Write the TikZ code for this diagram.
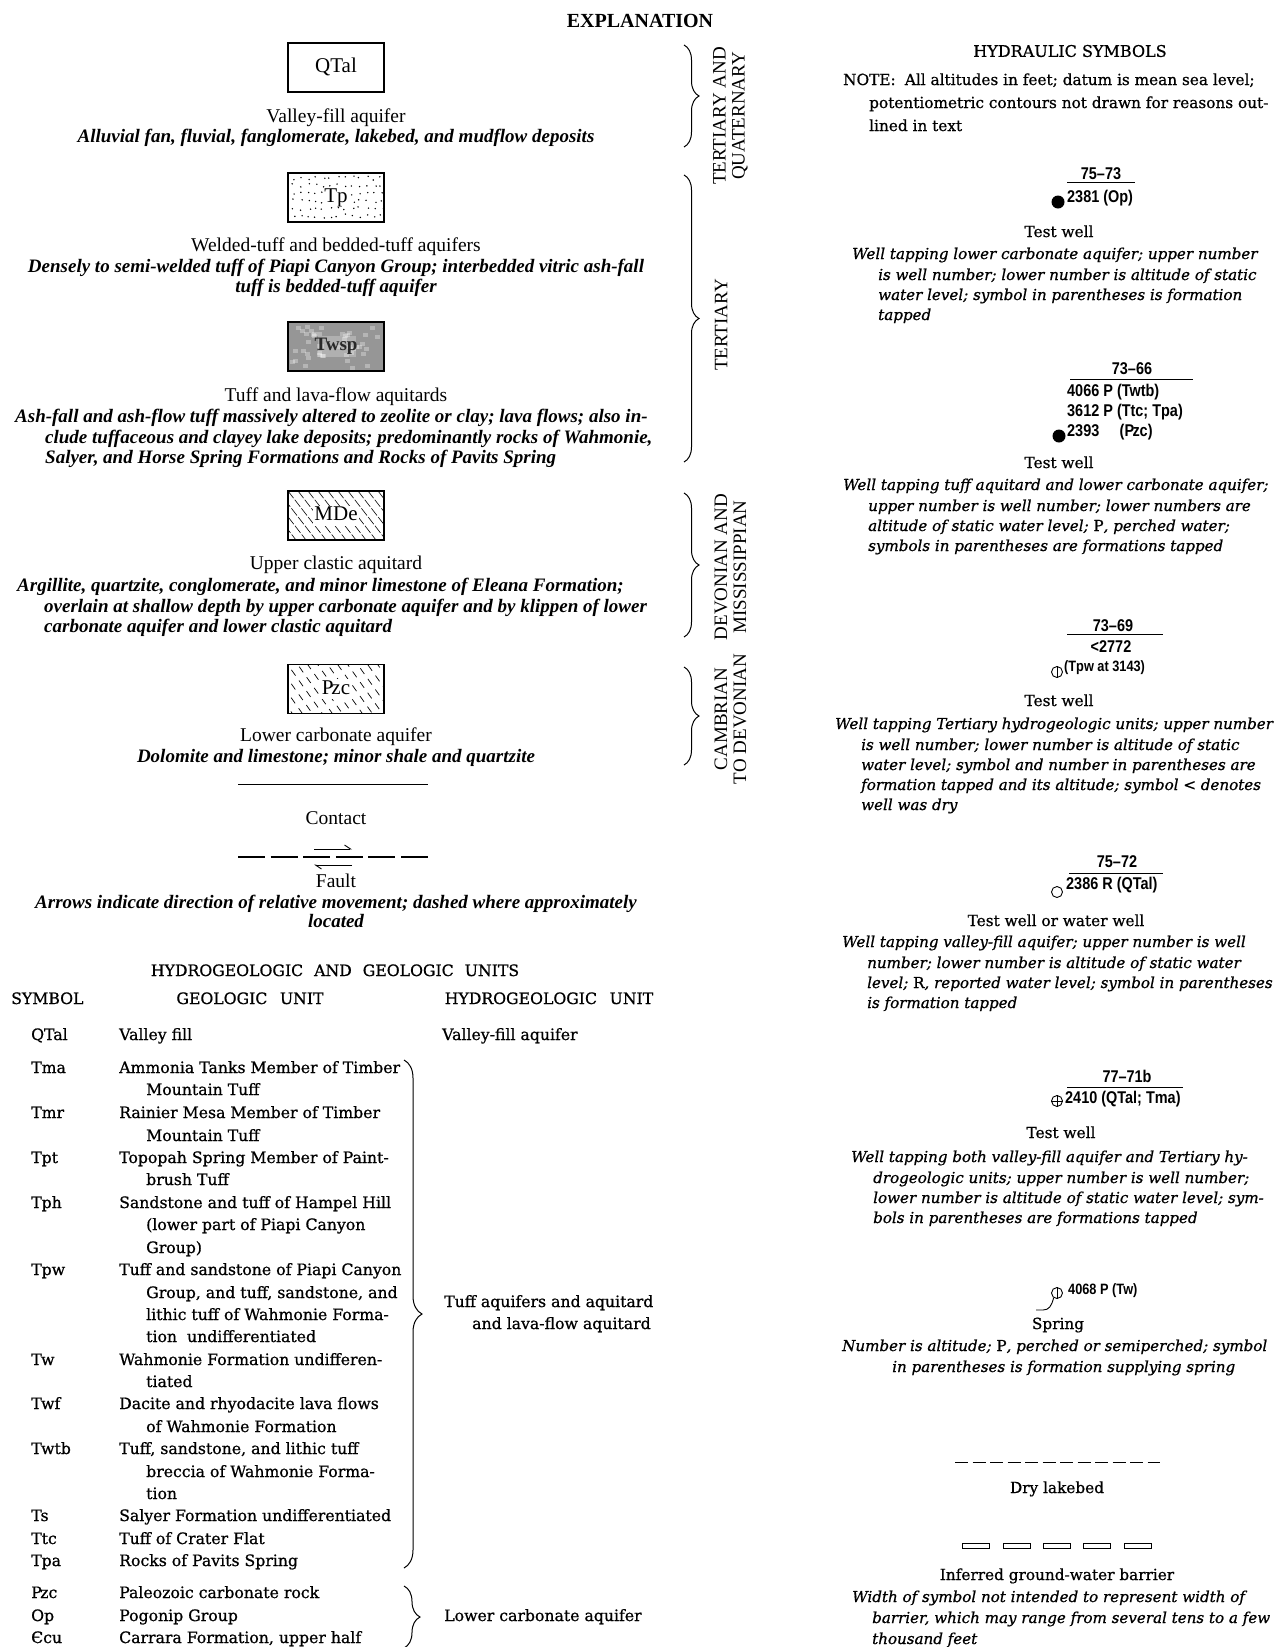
\documentclass[tikz,border=0pt]{standalone}
\usepackage{fontspec}
\setmainfont{Liberation Serif}
\newfontfamily\dvs[FakeBold=0.8]{DejaVu Serif}
\newfontfamily\wellf[FakeStretch=0.85]{Liberation Sans}
\usetikzlibrary{decorations.pathreplacing,arrows.meta}
\newcommand{\pzl}{P\kern-0.1em z}
\begin{document}
\begin{tikzpicture}[x=1pt,y=-1pt,
  lt/.style={inner sep=0pt,text height=14pt,text depth=4pt,font=\fontsize{19.5}{22}\selectfont},
  bl/.style={inner sep=0pt,text height=14pt,text depth=4pt,font=\fontsize{21}{24}\selectfont},
  li/.style={inner sep=0pt,text height=14pt,text depth=4pt,font=\fontsize{19}{22}\selectfont\bfseries\itshape},
  bx/.style={draw,line width=1.1pt,minimum width=96pt,minimum height=49pt,inner sep=0pt},
  vt/.style={rotate=90,align=center,inner sep=0pt,font=\fontsize{19}{19}\selectfont},
  brc/.style={decorate,decoration={brace,amplitude=15pt},line width=1pt},
  tb/.style={inner sep=0pt,text height=11.5pt,text depth=3.5pt,font=\dvs\fontsize{15.7}{19}\selectfont,anchor=west},
  hd/.style={inner sep=0pt,text height=11.5pt,text depth=3.5pt,font=\dvs\fontsize{15.7}{19}\selectfont},
  rt/.style={inner sep=0pt,text height=11pt,text depth=3pt,font=\dvs\fontsize{15.3}{19}\selectfont},
  ri/.style={inner sep=0pt,text height=11pt,text depth=3pt,font=\dvs\itshape\fontsize{15.1}{19}\selectfont,anchor=west},
  wn/.style={inner sep=0pt,text height=12pt,text depth=3.5pt,font=\wellf\bfseries\fontsize{17}{19}\selectfont},
  frac/.style={line width=1pt},
  sym/.style={circle,draw,line width=0.9pt,minimum size=11pt,inner sep=0pt},
]
\useasboundingbox (0,0) rectangle (1280,1647);

% ---------------- title
\node[inner sep=0pt,font=\fontsize{20}{24}\selectfont\bfseries] (title) at (640,21) {EXPLANATION};

% ---------------- left column units
\node[bx] (qtal) at (336,67.5) {};
\node[bl] (qtallab) at (qtal) {QTal};
\node[lt] (vfa) at (336,117) {Valley-fill aquifer};
\node[li] (vfad) at (336,137) {Alluvial fan, fluvial, fanglomerate, lakebed, and mudflow deposits};

\node[bx] (tp) at (336,197.5) {};
\begin{scope}
  \pgfmathsetseed{5}
  \foreach \i in {0,...,12}{
    \foreach \j in {0,...,5}{
      \pgfmathsetmacro\px{292+\i*7.3+rnd*4}
      \pgfmathsetmacro\py{176+\j*7.6+rnd*4}
      \fill (\px,\py) circle (0.8pt);
    }
  }
\end{scope}
\node[bl,fill=white,inner sep=0.5pt] (tplab) at (tp) {Tp};
\node[lt] (wta) at (336,246) {Welded-tuff and bedded-tuff aquifers};
\node[li] (wtad1) at (336,267) {Densely to semi-welded tuff of Piapi Canyon Group; interbedded vitric ash-fall};
\node[li] (wtad2) at (336,287) {tuff is bedded-tuff aquifer};

\node[bx,fill={rgb,255:red,150;green,150;blue,150}] (twsp) at (336,346.5) {};
\begin{scope}
  \clip (289,323) rectangle (383,370);
  \pgfmathsetseed{11}
  \foreach \i in {1,...,45}{
    \pgfmathsetmacro\px{289+rnd*92}
    \pgfmathsetmacro\py{323+rnd*45}
    \fill[white,opacity=0.3] (\px,\py) rectangle ++(5,4);
  }
  \fill[white,opacity=0.25] (318,336) rectangle (356,357);
\end{scope}
\node[inner sep=0pt,font=\fontsize{19}{22}\selectfont\bfseries,text={rgb,255:red,40;green,40;blue,40}] (twsplab) at (twsp) {Twsp};
\node[lt] (tla) at (336,396) {Tuff and lava-flow aquitards};
\node[li,anchor=west] (tlad1) at (15,417) {Ash-fall and ash-flow tuff massively altered to zeolite or clay; lava flows; also in-};
\node[li,anchor=west] (tlad2) at (45,438) {clude tuffaceous and clayey lake deposits; predominantly rocks of Wahmonie,};
\node[li,anchor=west] (tlad3) at (45,458) {Salyer, and Horse Spring Formations and Rocks of Pavits Spring};

\node[bx] (mde) at (336,515.5) {};
\begin{scope}
  \clip (288,491) rectangle (384,540);
  \foreach \k in {-40,-30,...,100}
    \draw[line width=0.6pt,dash pattern=on 9pt off 2pt] (288+\k,491) -- ++(38,49);
\end{scope}
\node[bl,fill=white,inner sep=1pt] (mdelab) at (mde) {MDe};
\node[lt] (uca) at (336,564) {Upper clastic aquitard};
\node[li,anchor=west] (ucad1) at (17,586) {Argillite, quartzite, conglomerate, and minor limestone of Eleana Formation;};
\node[li,anchor=west] (ucad2) at (44,607) {overlain at shallow depth by upper carbonate aquifer and by klippen of lower};
\node[li,anchor=west] (ucad3) at (44,627) {carbonate aquifer and lower clastic aquitard};

\node[bx] (pzc) at (336,689) {};
\begin{scope}
  \clip (288,665) rectangle (384,713);
  \foreach \k [count=\c, evaluate=\c as \ph using {mod(\c*4,13)}] in {-40,-30,...,100}
    \draw[line width=0.7pt,dash pattern=on 7pt off 6pt,dash phase=\ph pt] (288+\k,665) -- ++(34,48);
\end{scope}
\node[bl,fill=white,inner sep=1pt] (pzclab) at (pzc) {\pzl c};
\node[lt] (lca) at (336,736) {Lower carbonate aquifer};
\node[li] (lcad) at (336,757) {Dolomite and limestone; minor shale and quartzite};

% contact
\coordinate (c1) at (238,784);
\coordinate (c2) at (428,784);
\draw[line width=1pt] (c1) -- (c2);
\node[lt] (contact) at (336,819) {Contact};

% fault
\coordinate (f1) at (238,857);
\coordinate (f2) at (428,857);
\draw[line width=2.6pt,dash pattern=on 27pt off 5.6pt] (f1) -- (f2);
\coordinate (a1) at (314,849);
\coordinate (a2) at (352,849);
\coordinate (a3) at (352,865);
\coordinate (a4) at (314,865);
\draw[line width=0.9pt,-{Straight Barb[harpoon,length=6pt,width=8pt]}] (a1) -- (a2);
\draw[line width=0.9pt,-{Straight Barb[harpoon,length=6pt,width=8pt]}] (a3) -- (a4);
\node[lt] (fault) at (336,882) {Fault};
\node[li] (faultd1) at (336,903) {Arrows indicate direction of relative movement; dashed where approximately};
\node[li] (faultd2) at (336,922) {located};

% ---------------- age braces
\draw[brc] (684,45) -- (684,147);
\node[vt] (tq) at (730.5,116) {TERTIARY AND\\QUATERNARY};
\draw[brc] (684,175) -- (684,462);
\node[vt] (tert) at (721,325) {TERTIARY};
\draw[brc] (684,493) -- (684,637);
\node[vt] (dm) at (730.5,567) {DEVONIAN AND\\MISSISSIPPIAN};
\draw[brc] (684,667) -- (684,765);
\node[vt] (cd) at (730.5,719) {CAMBRIAN\\TO DEVONIAN};

% ---------------- table
\node[hd] (thead) at (335,972) {HYDROGEOLOGIC\hspace{0.7em}AND\hspace{0.7em}GEOLOGIC\hspace{0.7em}UNITS};
\node[hd,anchor=west] (hsym) at (11,1000) {SYMBOL};
\node[hd] (hgeo) at (250,1000) {GEOLOGIC\hspace{0.8em}UNIT};
\node[hd] (hhyd) at (549,1000) {HYDROGEOLOGIC\hspace{0.8em}UNIT};

\node[tb] (s1) at (31,1036) {QTal};   \node[tb] (g1) at (119,1036) {Valley fill};
\node[tb] (h1) at (442,1036) {Valley-fill aquifer};
\node[tb] (s2) at (31,1069) {Tma};    \node[tb] (g2) at (119,1069) {Ammonia Tanks Member of Timber};
\node[tb] (g2b) at (146,1091) {Mountain Tuff};
\node[tb] (s3) at (31,1114) {Tmr};    \node[tb] (g3) at (119,1114) {Rainier Mesa Member of Timber};
\node[tb] (g3b) at (146,1137) {Mountain Tuff};
\node[tb] (s4) at (31,1159) {Tpt};    \node[tb] (g4) at (119,1159) {Topopah Spring Member of Paint-};
\node[tb] (g4b) at (146,1181) {brush Tuff};
\node[tb] (s5) at (31,1204) {Tph};    \node[tb] (g5) at (119,1204) {Sandstone and tuff of Hampel Hill};
\node[tb] (g5b) at (146,1226) {(lower part of Piapi Canyon};
\node[tb] (g5c) at (146,1249) {Group)};
\node[tb] (s6) at (31,1271) {Tpw};    \node[tb] (g6) at (119,1271) {Tuff and sandstone of Piapi Canyon};
\node[tb] (g6b) at (146,1294) {Group, and tuff, sandstone, and};
\node[tb] (g6c) at (146,1316) {lithic tuff of Wahmonie Forma-};
\node[tb] (g6d) at (146,1338) {tion\ \ undifferentiated};
\node[tb] (s7) at (31,1361) {Tw};     \node[tb] (g7) at (119,1361) {Wahmonie Formation undifferen-};
\node[tb] (g7b) at (146,1383) {tiated};
\node[tb] (s8) at (31,1405) {Twf};    \node[tb] (g8) at (119,1405) {Dacite and rhyodacite lava flows};
\node[tb] (g8b) at (146,1428) {of Wahmonie Formation};
\node[tb] (s9) at (31,1450) {Twtb};   \node[tb] (g9) at (119,1450) {Tuff, sandstone, and lithic tuff};
\node[tb] (g9b) at (146,1473) {breccia of Wahmonie Forma-};
\node[tb] (g9c) at (146,1495) {tion};
\node[tb] (s10) at (31,1517) {Ts};    \node[tb] (g10) at (119,1517) {Salyer Formation undifferentiated};
\node[tb] (s11) at (31,1540) {Ttc};   \node[tb] (g11) at (119,1540) {Tuff of Crater Flat};
\node[tb] (s12) at (31,1562) {Tpa};   \node[tb] (g12) at (119,1562) {Rocks of Pavits Spring};
\node[tb] (s13) at (31,1594) {\pzl c};  \node[tb] (g13) at (119,1594) {Paleozoic carbonate rock};
\node[tb] (s14) at (31,1617) {Op};    \node[tb] (g14) at (119,1617) {Pogonip Group};
\node[tb] (s15) at (31,1639) {Єcu};   \node[tb] (g15) at (119,1639) {Carrara Formation, upper half};

\draw[brc,decoration={brace,amplitude=18pt}] (404,1060) -- (404,1568);
\node[tb] (h2) at (444,1303) {Tuff aquifers and aquitard};
\node[tb] (h2b) at (472,1325) {and lava-flow aquitard};
\draw[brc,decoration={brace,amplitude=16pt}] (404,1586) -- (404,1648);
\node[tb] (h3) at (444,1617) {Lower carbonate aquifer};

% ---------------- right column
\node[inner sep=0pt,font=\dvs\fontsize{16}{19}\selectfont] (hs) at (1070,51) {HYDRAULIC SYMBOLS};
\node[rt,anchor=west] (note1) at (843,81) {NOTE:\hspace{0.6em}All altitudes in feet; datum is mean sea level;};
\node[rt,anchor=west] (note2) at (869,104) {potentiometric contours not drawn for reasons out-};
\node[rt,anchor=west] (note3) at (869,127) {lined in text};

% well 1
\node[wn] (w1n) at (1101,175) {75–73};
\draw[frac] (1067,182) -- (1135,182);
\node[circle,fill,minimum size=13pt,inner sep=0pt] (w1dot) at (1058,202) {};
\node[wn,anchor=west] (w1a) at (1067,198) {2381 (Op)};
\node[rt] (w1t) at (1059,233) {Test well};
\node[ri] (w1d1) at (852,255) {Well tapping lower carbonate aquifer; upper number};
\node[ri] (w1d2) at (878,276) {is well number; lower number is altitude of static};
\node[ri] (w1d3) at (878,296) {water level; symbol in parentheses is formation};
\node[ri] (w1d4) at (878,316) {tapped};

% well 2
\node[wn] (w2n) at (1132,370) {73–66};
\draw[frac] (1070,379) -- (1193,379);
\node[wn,anchor=west] (w2a) at (1067,392) {4066 P (Twtb)};
\node[wn,anchor=west] (w2b) at (1067,412) {3612 P (Ttc; Tpa)};
\node[wn,anchor=west] (w2c) at (1067,432) {2393\hspace{1.2em}(\pzl c)};
\node[circle,fill,minimum size=13pt,inner sep=0pt] (w2dot) at (1059,436) {};
\node[rt] (w2t) at (1059,464) {Test well};
\node[ri] (w2d1) at (843,486) {Well tapping tuff aquitard and lower carbonate aquifer;};
\node[ri] (w2d2) at (868,507) {upper number is well number; lower numbers are};
\node[ri] (w2d3) at (868,527) {altitude of static water level; \textup{P}, perched water;};
\node[ri] (w2d4) at (868,547) {symbols in parentheses are formations tapped};

% well 3
\node[wn] (w3n) at (1113,627) {73–69};
\draw[frac] (1067,634) -- (1163,634);
\node[wn] (w3a) at (1111,648) {<2772};
\node[sym] (w3sym) at (1057,672) {};
\draw[line width=0.9pt] (w3sym.north) -- (w3sym.south);
\node[wn,anchor=west,font=\wellf\bfseries\fontsize{15}{18}\selectfont] (w3b) at (1064,667) {(Tpw at 3143)};
\node[rt] (w3t) at (1059,702) {Test well};
\node[ri] (w3d1) at (835,725) {Well tapping Tertiary hydrogeologic units; upper number};
\node[ri] (w3d2) at (861,746) {is well number; lower number is altitude of static};
\node[ri] (w3d3) at (861,766) {water level; symbol and number in parentheses are};
\node[ri] (w3d4) at (861,786) {formation tapped and its altitude; symbol \textup{<} denotes};
\node[ri] (w3d5) at (861,806) {well was dry};

% well 4
\node[wn] (w4n) at (1117,863) {75–72};
\draw[frac] (1069,873) -- (1163,873);
\node[sym] (w4sym) at (1057,892) {};
\node[wn,anchor=west] (w4a) at (1066,885) {2386 R (QTal)};
\node[rt] (w4t) at (1056,922) {Test well or water well};
\node[ri] (w4d1) at (842,943) {Well tapping valley-fill aquifer; upper number is well};
\node[ri] (w4d2) at (867,964) {number; lower number is altitude of static water};
\node[ri] (w4d3) at (867,984) {level; \textup{R}, reported water level; symbol in parentheses};
\node[ri] (w4d4) at (867,1004) {is formation tapped};

% well 5
\node[wn] (w5n) at (1127,1078) {77–71b};
\draw[frac] (1067,1087) -- (1183,1087);
\node[sym] (w5sym) at (1057,1101) {};
\draw[line width=0.9pt] (w5sym.north) -- (w5sym.south) (w5sym.west) -- (w5sym.east);
\node[wn,anchor=west] (w5a) at (1065,1099) {2410 (QTal; Tma)};
\node[rt] (w5t) at (1061,1134) {Test well};
\node[ri] (w5d1) at (851,1158) {Well tapping both valley-fill aquifer and Tertiary hy-};
\node[ri] (w5d2) at (873,1179) {drogeologic units; upper number is well number;};
\node[ri] (w5d3) at (873,1199) {lower number is altitude of static water level; sym-};
\node[ri] (w5d4) at (873,1219) {bols in parentheses are formations tapped};

% spring
\node[sym] (spr) at (1057,1293) {};
\draw[line width=0.9pt] (spr.north) -- (spr.south);
\coordinate (sprend) at (1036,1310);
\draw[line width=0.9pt] (spr.235) .. controls +(-2,8) and +(6,0) .. (1043,1310) -- (sprend);
\node[wn,anchor=west,font=\wellf\bfseries\fontsize{15}{18}\selectfont] (spra) at (1068,1290) {4068 P (Tw)};
\node[rt] (sprt) at (1058,1325) {Spring};
\node[ri] (sprd1) at (842,1347) {Number is altitude; \textup{P}, perched or semiperched; symbol};
\node[ri] (sprd2) at (892,1368) {in parentheses is formation supplying spring};

% dry lakebed
\coordinate (dl1) at (955,1462);
\coordinate (dl2) at (1160,1462);
\draw[line width=1pt,dash pattern=on 13pt off 4.5pt] (dl1) -- (dl2);
\node[rt] (dlt) at (1057,1489) {Dry lakebed};

% barrier
\foreach \bxx in {962,1003,1043,1083,1124}
  \draw[line width=0.9pt] (\bxx,1543.5) rectangle ++(27,5);
\node[rt] (bt) at (1057,1576) {Inferred ground-water barrier};
\node[ri] (bd1) at (852,1598) {Width of symbol not intended to represent width of};
\node[ri] (bd2) at (872,1619) {barrier, which may range from several tens to a few};
\node[ri] (bd3) at (872,1640) {thousand feet};

\end{tikzpicture}
\end{document}
